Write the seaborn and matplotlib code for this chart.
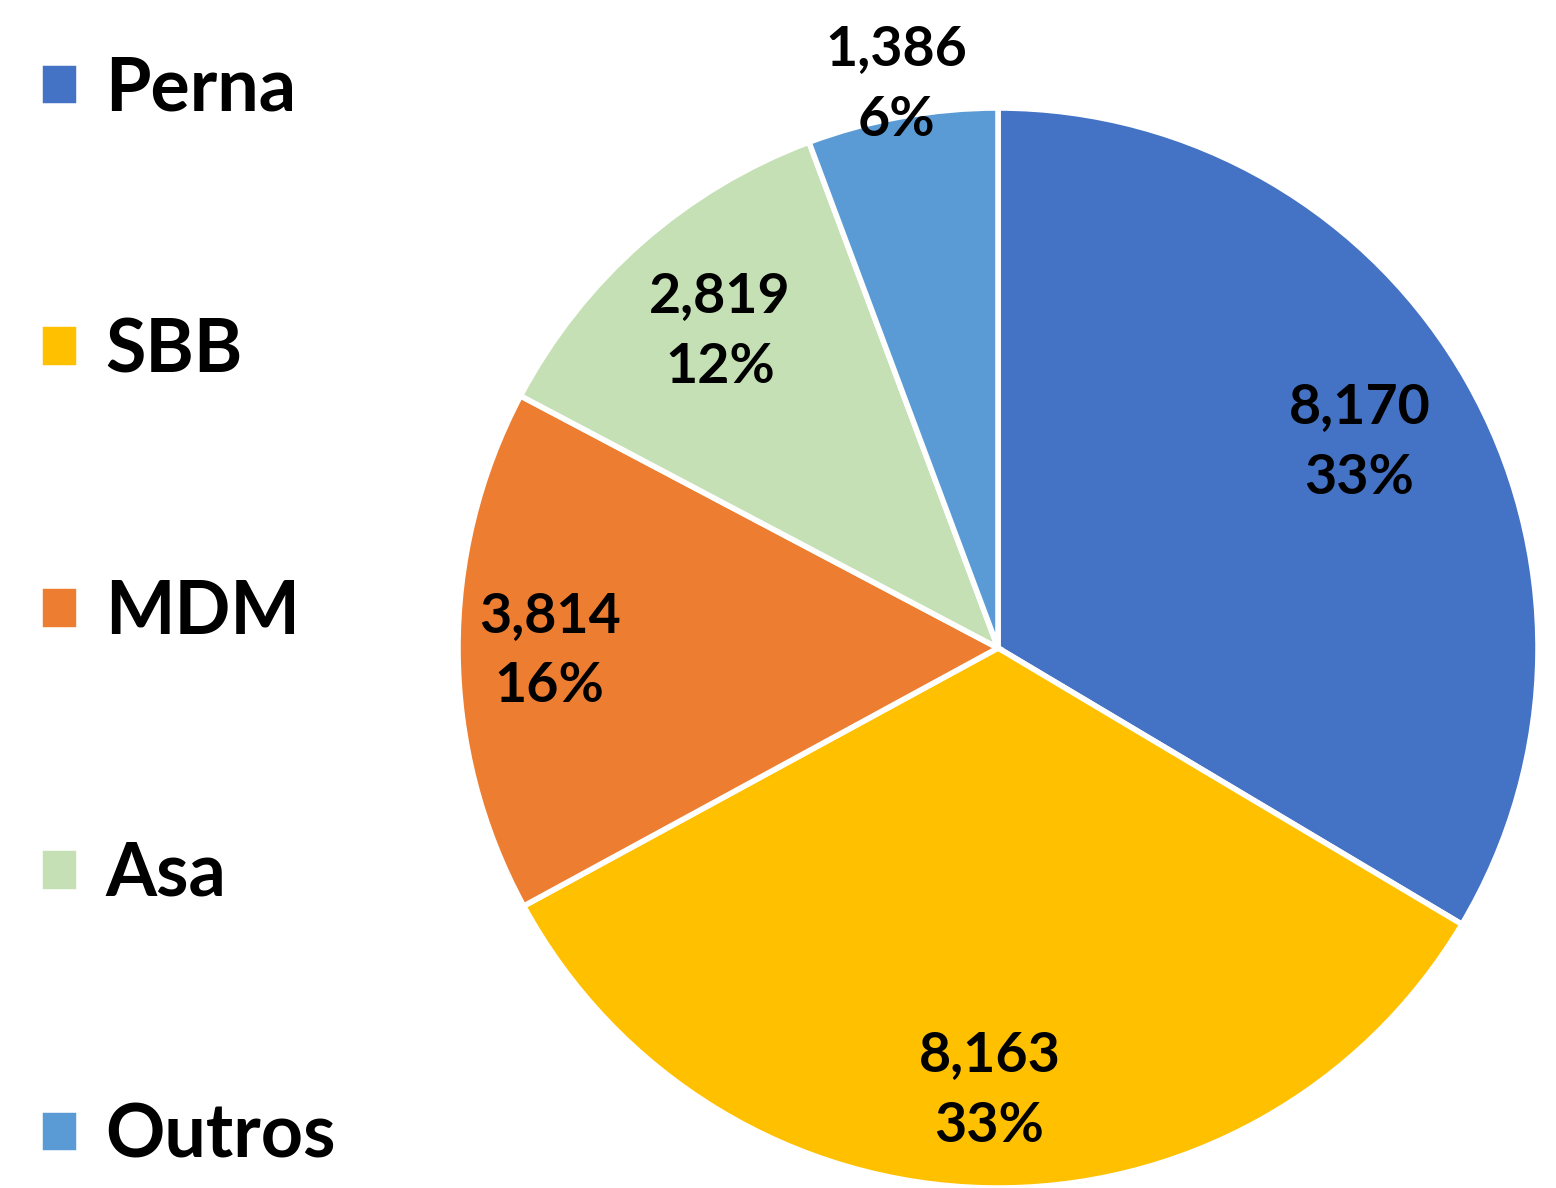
import matplotlib
matplotlib.use("Agg")
import matplotlib.pyplot as plt
import seaborn as sns
import numpy as np

categories = ["Perna", "SBB", "MDM", "Asa", "Outros"]
values = [8170, 8163, 3814, 2819, 1386]
pct_labels = ["33%", "33%", "16%", "12%", "6%"]
colors = ["#4472C4", "#FFC000", "#ED7D31", "#C5E0B4", "#5B9BD5"]
label_dist = [0.77, 0.82, 0.83, 0.78, 1.06]

sns.set_theme(style="white")
plt.rcParams['font.family'] = ['Lato', 'DejaVu Sans']

fig = plt.figure(figsize=(15.56, 11.88), dpi=100)
ax = fig.add_axes([(998 - 540) / 1556, 0.0, 1080 / 1556, 1080 / 1188])
palette = sns.color_palette(colors)
wedges, _ = ax.pie(values, colors=palette, startangle=90, counterclock=False,
                   wedgeprops=dict(edgecolor="white", linewidth=4))
ax.set_xlim(-1, 1)
ax.set_ylim(-1, 1)
ax.set_aspect("equal")
for w, v, p, d in zip(wedges, values, pct_labels, label_dist):
    ang = np.deg2rad((w.theta1 + w.theta2) / 2)
    ax.text(d * np.cos(ang), d * np.sin(ang), f"{v:,}\n{p}",
            ha="center", va="center", fontsize=40, fontweight="bold",
            linespacing=1.5, clip_on=False, color="black")

leg = fig.legend(wedges, categories, loc="upper left", bbox_to_anchor=(0.007, 0.979),
                 frameon=False, prop=dict(weight="bold", size=53),
                 handlelength=0.53, handleheight=0.53, handletextpad=0.35,
                 labelspacing=2.62, borderaxespad=0)
for t in leg.get_texts():
    t.set_color("black")

fig.savefig("out.png", dpi=100)
